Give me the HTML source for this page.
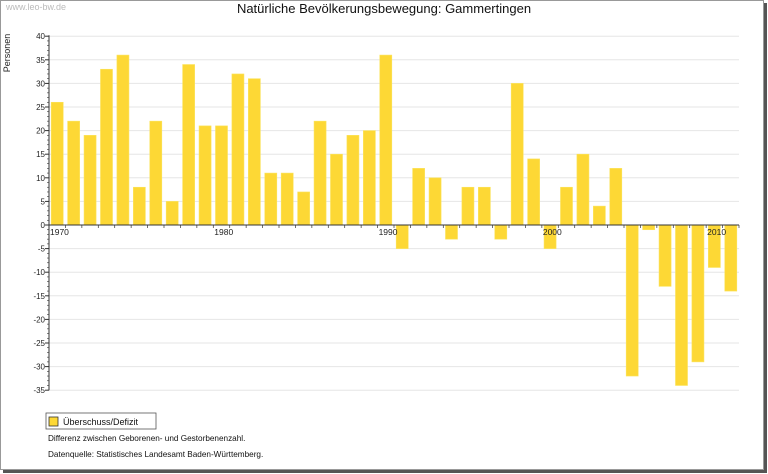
<!DOCTYPE html>
<html><head><meta charset="utf-8">
<style>
body{margin:0;width:768px;height:474px;background:#fff;font-family:"Liberation Sans","DejaVu Sans",sans-serif;overflow:hidden}
#frame{position:absolute;left:0;top:0;width:762px;height:468px;border:1px solid #999;box-shadow:3px 3px 0 #555;background:#fff}
</style></head><body>
<div id="frame"></div>
<svg id="c" width="768" height="474" style="position:absolute;left:0;top:0">
<text x="6" y="10" font-size="9" fill="#bbb">www.leo-bw.de</text>
<text x="384" y="13" font-size="13" text-anchor="middle" fill="#111">Natürliche Bevölkerungsbewegung: Gammertingen</text>
<text transform="translate(10,53) rotate(-90)" font-size="9" text-anchor="middle" fill="#222">Personen</text>
<g id="grid"></g><g id="bars"></g><g id="axes"></g>
<rect x="49" y="417" width="9" height="9" fill="#fdd835" stroke="#333" stroke-width="0.8"/>
<text x="63" y="425" font-size="9" fill="#111">Überschuss/Defizit</text>
<rect x="46" y="413" width="110" height="16" fill="none" stroke="#555" stroke-width="0.8"/>
<text x="48" y="441" font-size="8.2" fill="#111">Differenz zwischen Geborenen- und Gestorbenenzahl.</text>
<text x="48" y="457" font-size="8.2" fill="#111">Datenquelle: Statistisches Landesamt Baden-Württemberg.</text>
</svg>
<script>
const years=[1970,1971,1972,1973,1974,1975,1976,1977,1978,1979,1980,1981,1982,1983,1984,1985,1986,1987,1988,1989,1990,1991,1992,1993,1994,1995,1996,1997,1998,1999,2000,2001,2002,2003,2004,2005,2006,2007,2008,2009,2010,2011];
const values=[26,22,19,33,36,8,22,5,34,21,21,32,31,11,11,7,22,15,19,20,36,-5,12,10,-3,8,8,-3,30,14,-5,8,15,4,12,-32,-1,-13,-34,-29,-9,-14];
const yTicks=[40,35,30,25,20,15,10,5,0,-5,-10,-15,-20,-25,-30,-35];
const xLabels=[1970,1980,1990,2000,2010];
const NS="http://www.w3.org/2000/svg";
const L=49,R=739,Y0=225,PU=4.72;
const slot=(R-L)/years.length;
function y(v){return Y0-v*PU;}
function xs(i){return L+i*slot;}
function mk(t,a,p){const e=document.createElementNS(NS,t);for(const k in a)e.setAttribute(k,a[k]);document.getElementById(p).appendChild(e);return e;}
yTicks.forEach(t=>{
 if(t!==0){const g=mk('line',{x1:L,x2:R,y1:y(t),y2:y(t),stroke:'#e6e6e6','stroke-width':1},'grid');
 
 }
 const tx=mk('text',{x:L-4,y:y(t)+3,'font-size':8,'text-anchor':'end',fill:'#222'},'axes');tx.textContent=t;
 
 
 mk('line',{x1:L-4,x2:L,y1:y(t),y2:y(t),stroke:'#333'},'axes');
});
for(let v=-35;v<=40;v++){mk('line',{x1:L-2,x2:L,y1:y(v),y2:y(v),stroke:'#333','stroke-width':0.6},'axes');}
values.forEach((v,i)=>{
 const top=Math.min(y(v),Y0),h=Math.abs(y(v)-Y0);
 const b=mk('rect',{x:xs(i)+2.2,y:top,width:slot-4.4,height:h,fill:'#fdd835',stroke:'#fbe45e','stroke-width':0.6},'bars');
 
 
});
mk('line',{x1:L,x2:L,y1:y(40)-1,y2:y(-35),stroke:'#333'},'axes');
mk('line',{x1:L,x2:R,y1:Y0,y2:Y0,stroke:'#333'},'axes');
for(let i=0;i<=years.length;i++){mk('line',{x1:xs(i),x2:xs(i),y1:Y0,y2:Y0+3,stroke:'#333','stroke-width':0.7},'axes');}
xLabels.forEach(yr=>{
 const i=years.indexOf(yr);
 const t=mk('text',{x:xs(i)+1,y:Y0+10,'font-size':8.5,fill:'#222'},'axes');t.textContent=yr;
 
 
});
</script>
</body></html>
